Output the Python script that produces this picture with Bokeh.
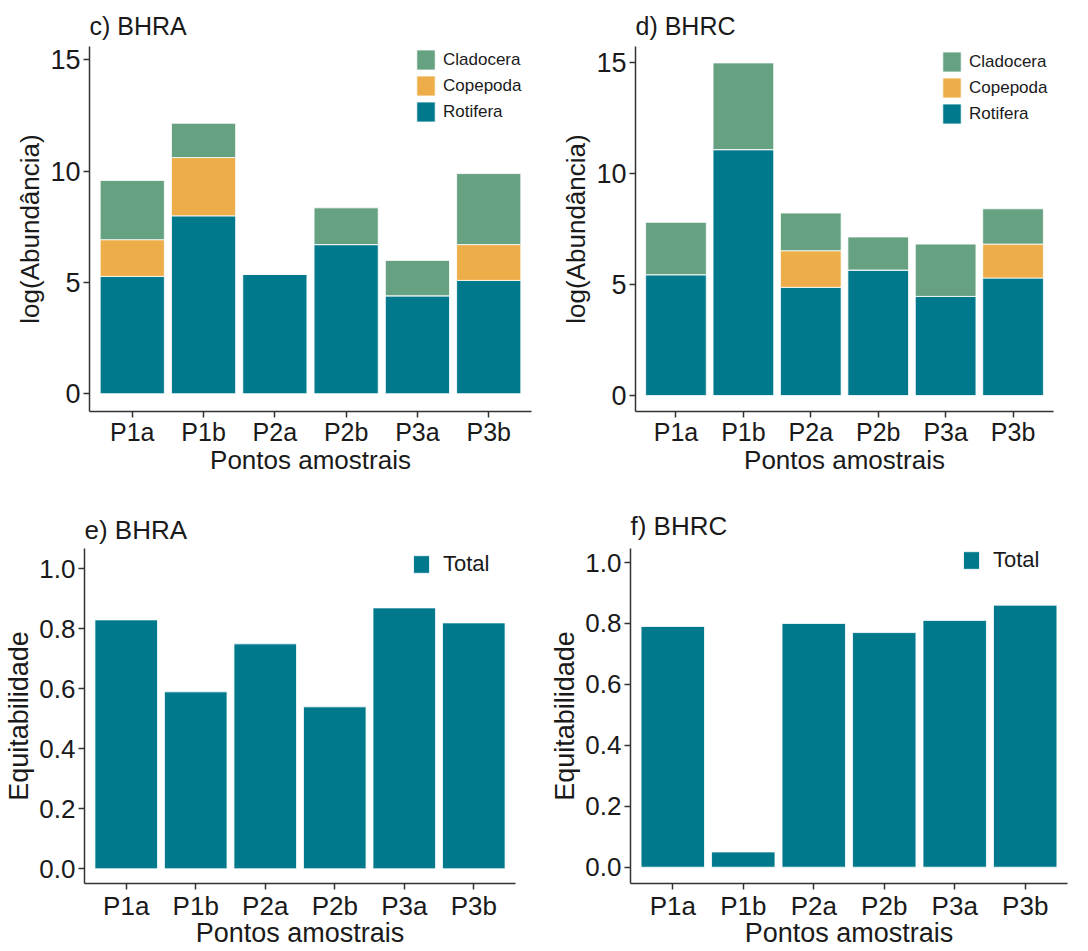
from bokeh.plotting import figure
from bokeh.models import (ColumnDataSource, FactorRange, Range1d, FixedTicker,
                          NumeralTickFormatter, Legend, LegendItem)
from bokeh.layouts import column, row
from bokeh.embed import file_html
from bokeh.resources import INLINE

sites = ["P1a", "P1b", "P2a", "P2b", "P3a", "P3b"]
groups = ["Rotifera", "Copepoda", "Cladocera"]
legend_order = ["Cladocera", "Copepoda", "Rotifera"]

# log(Abundância) stacked segments
bhra_rotifera = [5.27, 7.99, 5.37, 6.70, 4.40, 5.09]
bhra_copepoda = [1.65, 2.62, 0.0, 0.0, 0.0, 1.61]
bhra_cladocera = [2.66, 1.54, 0.0, 1.65, 1.59, 3.19]

bhrc_rotifera = [5.45, 11.09, 4.88, 5.66, 4.47, 5.30]
bhrc_copepoda = [0.0, 0.0, 1.65, 0.0, 0.0, 1.53]
bhrc_cladocera = [2.36, 3.91, 1.70, 1.49, 2.36, 1.59]

# Equitabilidade
bhra_equit = [0.83, 0.59, 0.75, 0.54, 0.87, 0.82]
bhrc_equit = [0.79, 0.05, 0.80, 0.77, 0.81, 0.86]

abund_ticks = [0, 5, 10, 15]
equit_ticks = [0.0, 0.2, 0.4, 0.6, 0.8, 1.0]

colors = {"Rotifera": "#00798c", "Copepoda": "#edae49", "Cladocera": "#66a182"}
total_color = "#00798c"

FONT = "Liberation Sans"
TXT = "#1a1a1a"
AX = "#333333"


def make_fig(w, h, borders, yr, title, tsize, tstand, stand):
    left, right, top, bottom = borders
    p = figure(width=w, height=h, x_range=FactorRange(*sites, range_padding=0.1,
                                                      range_padding_units="absolute"),
               y_range=Range1d(*yr), output_backend="svg", toolbar_location=None,
               min_border_left=left, min_border_right=right, min_border_top=top,
               min_border_bottom=bottom)
    p.title.text = title
    p.title.text_font = FONT
    p.title.text_font_size = f"{tsize}px"
    p.title.text_font_style = "normal"
    p.title.text_color = TXT
    p.title.standoff = tstand
    p.title.offset = 0
    p.outline_line_color = None
    p.grid.visible = False
    p.background_fill_color = "white"
    p.border_fill_color = "white"
    for ax in (p.xaxis[0], p.yaxis[0]):
        ax.axis_line_color = AX
        ax.axis_line_width = 1.5
        ax.major_tick_line_color = AX
        ax.major_tick_line_width = 1.5
        ax.major_tick_out = 6
        ax.major_tick_in = 0
        ax.minor_tick_line_color = None
        ax.major_label_text_font = FONT
        ax.major_label_text_color = TXT
        ax.axis_label_text_font = FONT
        ax.axis_label_text_color = TXT
        ax.axis_label_text_font_style = "normal"
    p.yaxis.major_label_standoff = 3
    p.yaxis.axis_label_standoff = 2
    p.xaxis.major_label_standoff = stand[0]
    p.xaxis.axis_label_standoff = stand[1]
    p.xaxis.axis_label = "Pontos amostrais"
    return p


def abundance_panel(title, rot, cop, cla, borders, yr, tstand, leg_xy):
    p = make_fig(544, 480, borders, yr, title, 25, tstand, (0, -4))
    src = ColumnDataSource(dict(site=sites, Rotifera=rot, Copepoda=cop, Cladocera=cla))
    rs = p.vbar_stack(groups, x="site", width=0.9, source=src,
                      fill_color=[colors[g] for g in groups],
                      line_color="white", line_width=0.8)
    rmap = dict(zip(groups, rs))
    items = [LegendItem(label=g, renderers=[rmap[g]]) for g in legend_order]
    leg = Legend(items=items, location=leg_xy, margin=0, padding=0, spacing=1,
                 glyph_width=23, glyph_height=25, label_height=20, label_standoff=6,
                 label_text_font=FONT, label_text_font_size="17px", label_text_color=TXT,
                 background_fill_alpha=0, border_line_color=None)
    p.add_layout(leg)
    p.yaxis.ticker = FixedTicker(ticks=abund_ticks)
    p.yaxis.axis_label = "log(Abundância)"
    p.yaxis.major_label_text_font_size = "27px"
    p.xaxis.major_label_text_font_size = "25px"
    p.xaxis.axis_label_text_font_size = "26px"
    p.yaxis.axis_label_text_font_size = "26px"
    return p


def equit_panel(title, vals, borders, yr, tstand, leg_xy):
    p = make_fig(544, 471, borders, yr, title, 26, tstand, (1, -6))
    src = ColumnDataSource(dict(site=sites, Total=vals))
    r = p.vbar(x="site", top="Total", width=0.9, source=src, fill_color=total_color,
               line_color="white", line_width=0.8)
    leg = Legend(items=[LegendItem(label="Total", renderers=[r])], location=leg_xy,
                 margin=0, padding=0, spacing=0, glyph_width=20, glyph_height=22,
                 label_height=20, label_standoff=12, label_text_font=FONT,
                 label_text_font_size="22px", label_text_color=TXT,
                 background_fill_alpha=0, border_line_color=None)
    p.add_layout(leg)
    p.yaxis.ticker = FixedTicker(ticks=equit_ticks)
    p.yaxis.formatter = NumeralTickFormatter(format="0.0")
    p.yaxis.axis_label = "Equitabilidade"
    p.yaxis.major_label_text_font_size = "26px"
    p.xaxis.major_label_text_font_size = "26px"
    p.xaxis.axis_label_text_font_size = "27px"
    p.yaxis.axis_label_text_font_size = "27px"
    return p


pc = abundance_panel("c) BHRA", bhra_rotifera, bhra_copepoda, bhra_cladocera,
                     (89, 13, 46, 69), (-0.80, 15.60), 14, (325, 287))
pd_ = abundance_panel("d) BHRC", bhrc_rotifera, bhrc_copepoda, bhrc_cladocera,
                      (91, 35, 46, 69), (-0.72, 15.74), 13, (305, 285))
pe = equit_panel("e) BHRA", bhra_equit, (84, 29, 68, 68), (-0.049, 1.068), 8, (327, 306))
pf = equit_panel("f) BHRC", bhrc_equit, (86, 21, 68, 68), (-0.0535, 1.046), 15, (331, 310))

layout = column(row(pc, pd_), row(pe, pf))
open("out.html", "w").write(file_html(layout, INLINE))
